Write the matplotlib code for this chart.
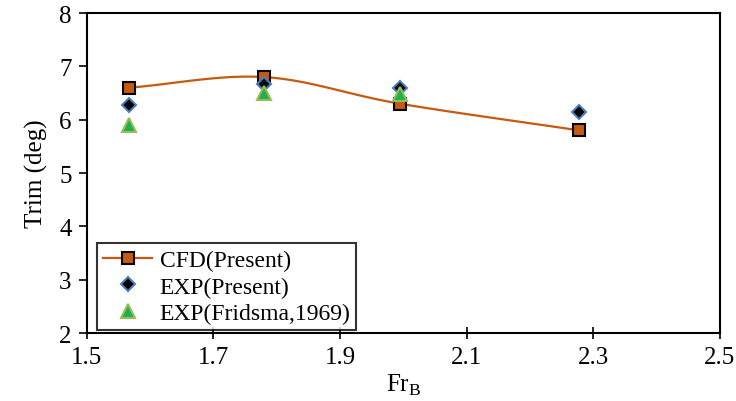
import numpy as np
import matplotlib.pyplot as plt

plt.rcParams['font.family'] = ['Liberation Serif', 'DejaVu Serif']

fr_cfd = [1.566, 1.78, 1.995, 2.278]
trim_cfd = [6.6, 6.8, 6.3, 5.8]

fr_exp = [1.566, 1.78, 1.995, 2.278]
trim_exp = [6.27, 6.67, 6.6, 6.14]

fr_frid = [1.566, 1.78, 1.995]
trim_frid = [5.9, 6.5, 6.48]


def smooth(x, y, n=40):
    # catmull-rom style smoothing, like a spreadsheet "smoothed line"
    x = np.asarray(x, float)
    y = np.asarray(y, float)
    px = np.concatenate([[2 * x[0] - x[1]], x, [2 * x[-1] - x[-2]]])
    py = np.concatenate([[2 * y[0] - y[1]], y, [2 * y[-1] - y[-2]]])
    xs, ys = [], []
    t = np.linspace(0, 1, n)
    for i in range(1, len(px) - 2):
        for p, out in ((px, xs), (py, ys)):
            p0, p1, p2, p3 = p[i - 1], p[i], p[i + 1], p[i + 2]
            out.extend(0.5 * ((2 * p1) + (-p0 + p2) * t
                              + (2 * p0 - 5 * p1 + 4 * p2 - p3) * t ** 2
                              + (-p0 + 3 * p1 - 3 * p2 + p3) * t ** 3))
    return np.array(xs), np.array(ys)


fig = plt.figure(figsize=(7.36, 4.02), dpi=100)
ax = fig.add_axes([0.118, 0.169, 0.860, 0.796])

sx, sy = smooth(fr_cfd, trim_cfd)
ax.plot(sx, sy, color='#C55A11', lw=1.6, zorder=2)
ax.plot(fr_cfd, trim_cfd, ls='none', marker='s', ms=8, mfc='#C55A11',
        mec='black', mew=1.5, zorder=3)
ax.plot([], [], color='#C55A11', lw=1.6, marker='s', ms=8, mfc='#C55A11',
        mec='black', mew=1.5, label='CFD(Present)')
ax.plot(fr_exp, trim_exp, ls='none', marker='D', ms=7, mfc='black',
        mec='#4A7EC0', mew=1.5, label='EXP(Present)', zorder=4)
ax.plot(fr_frid, trim_frid, ls='none', marker='^', ms=10, mfc='#1DB050',
        mec='#9BBB59', mew=1.5, label='EXP(Fridsma,1969)', zorder=5)

ax.set_xlim(1.5, 2.5)
ax.set_ylim(2, 8)
ax.set_xticks([1.5, 1.7, 1.9, 2.1, 2.3, 2.5])
ax.set_yticks(range(2, 9))
ax.tick_params(axis='x', direction='inout', length=8, width=1.2, labelsize=18, pad=5)
ax.tick_params(axis='y', direction='out', length=6, width=1.2, labelsize=18, pad=5)
for s in ax.spines.values():
    s.set_linewidth(1.5)

ax.set_xlabel('Fr$_\\mathregular{B}$', fontsize=18, labelpad=3)
ax.set_ylabel('Trim (deg)', fontsize=18, labelpad=8)

leg = ax.legend(loc='lower left', bbox_to_anchor=(0.016, 0.009), fontsize=17,
                frameon=True, fancybox=False, edgecolor='black', borderpad=0.25,
                handletextpad=0.3, labelspacing=0.22, handlelength=2.1,
                borderaxespad=0)
leg.get_frame().set_linewidth(1.5)

fig.savefig('out.png', dpi=100)
